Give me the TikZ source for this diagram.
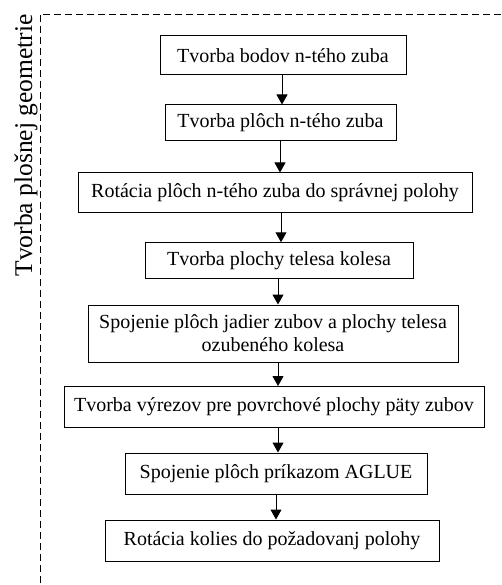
\documentclass[tikz,border=0pt]{standalone}
\usepackage{fontspec}
\setmainfont{Liberation Serif}
\usepackage{tikz}
\usetikzlibrary{arrows.meta}

\begin{document}
\begin{tikzpicture}[x=1pt, y=-1pt,
		krok/.style={draw, line width=1pt, inner sep=0pt, align=center,
			font=\fontsize{20}{23}\selectfont},
		sipka/.style={line width=1pt, -{Triangle[width=11pt, length=10pt]}}]
		\useasboundingbox (0, 0) rectangle (501, 585);

		% ramcek a popis vlavo
		\draw[dash pattern=on 7pt off 4pt, line width=0.8pt] (501, 14) -- (40, 14) -- (40, 585);
		\node[rotate=90, anchor=base, font=\fontsize{25.5}{28}\selectfont] (nazov) at (32, 145.5) {Tvorba plošnej geometrie};

		% jednotlive kroky
		\node[krok, minimum width=246, minimum height=39] (k1) at (283, 55.5) {Tvorba bodov n-tého zuba};
		\node[krok, minimum width=231, minimum height=36] (k2) at (280.5, 123) {Tvorba plôch n-tého zuba};
		\node[krok, minimum width=394, minimum height=39] (k3) at (275, 192.5) {Rotácia plôch n-tého zuba do správnej polohy};
		\node[krok, minimum width=268, minimum height=35.5] (k4) at (279, 260.5) {Tvorba plochy telesa kolesa};
		\node[krok, minimum width=370, minimum height=57] (k5) at (273, 333.5) {Spojenie plôch jadier zubov a plochy telesa\\ozubeného kolesa};
		\node[krok, minimum width=420, minimum height=41] (k6) at (274, 407) {Tvorba výrezov pre povrchové plochy päty zubov};
		\node[krok, minimum width=302, minimum height=41] (k7) at (276, 473.5) {Spojenie plôch príkazom AGLUE};
		\node[krok, minimum width=334, minimum height=41] (k8) at (272, 540.5) {Rotácia kolies do požadovanj polohy};

		% sipky medzi krokmi
		\coordinate (s1) at (282, 0);
		\coordinate (s2) at (280, 0);
		\coordinate (s3) at (281, 0);
		\coordinate (s4) at (278, 0);
		\coordinate (s5) at (278, 0);
		\coordinate (s6) at (278, 0);
		\coordinate (s7) at (276, 0);
		\draw[sipka] (s1 |- k1.south) -- (s1 |- k2.north);
		\draw[sipka] (s2 |- k2.south) -- (s2 |- k3.north);
		\draw[sipka] (s3 |- k3.south) -- (s3 |- k4.north);
		\draw[sipka] (s4 |- k4.south) -- (s4 |- k5.north);
		\draw[sipka] (s5 |- k5.south) -- (s5 |- k6.north);
		\draw[sipka] (s6 |- k6.south) -- (s6 |- k7.north);
		\draw[sipka] (s7 |- k7.south) -- (s7 |- k8.north);
	\end{tikzpicture}
\end{document}
